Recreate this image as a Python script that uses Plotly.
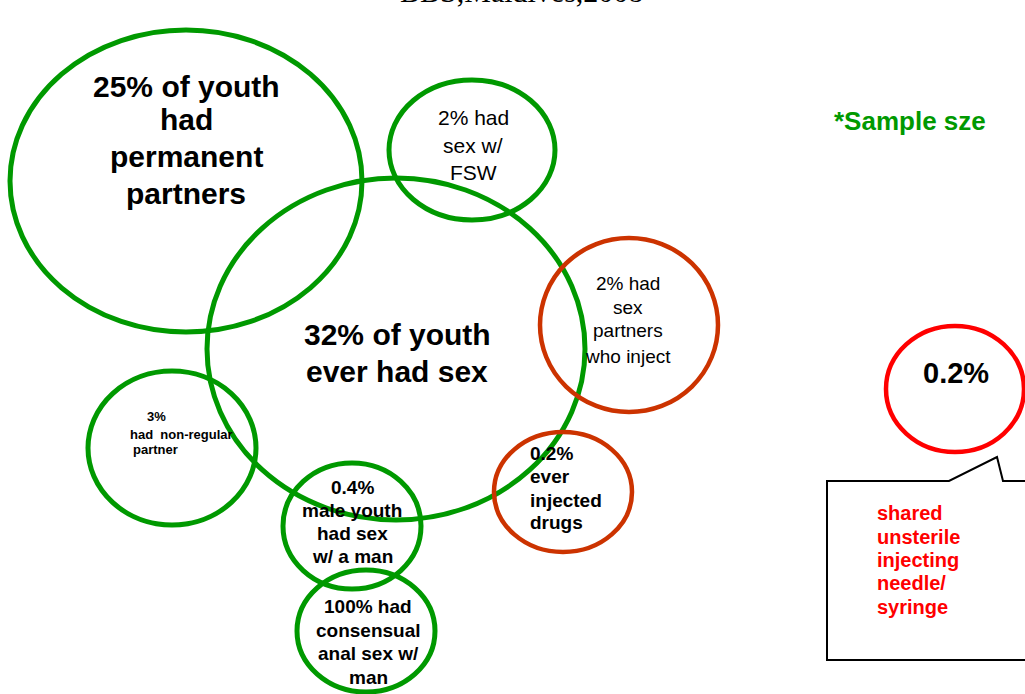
import plotly.graph_objects as go

# ---- data (texts of the diagram) ----
title_text = "BBS,Maldives,2008"
bubble_labels = [
    ["25% of youth", "had", "permanent", "partners"],
    ["32% of youth", "ever had sex"],
    ["2% had", "sex w/", "FSW"],
    ["2% had", "sex", "partners", "who inject"],
    ["3%", "had  non-regular", "partner"],
    ["0.4%", "male youth", "had sex", "w/ a man"],
    ["100% had", "consensual", "anal sex w/", "man"],
    ["0.2%", "ever", "injected", "drugs"],
    ["0.2%"],
]
note_text = "*Sample sze"
callout_lines = ["shared", "unsterile", "injecting", "needle/", "syringe"]

# ---- layout geometry (pixel space, y downwards) ----
GREEN = "#009900"
ORANGE = "#CC3300"
RED = "#FF0000"
circles = [  # cx, cy, rx, ry, color, width
    (186, 181, 176, 151, GREEN, 5),
    (396, 349, 189, 171, GREEN, 5),
    (472, 150, 83, 70, GREEN, 5),
    (629, 325, 89, 87, ORANGE, 4.5),
    (172, 448, 84, 77, GREEN, 5),
    (352, 526, 69, 63, GREEN, 5),
    (366, 631, 69, 61, GREEN, 5),
    (563, 492, 69, 60, ORANGE, 4.5),
    (955, 389, 69, 63, RED, 4.5),
]
# per label: x, list of line centre y, font size, bold, anchor
text_pos = [
    (186, [86, 119, 156, 193], 30, True, "center"),
    (397, [334, 371], 30, True, "center"),
    (473, [117, 145, 172], 21, False, "center"),
    (628, [283, 307, 330, 356], 19, False, "center"),
    ([145, 128, 131], [416, 434, 449], 13, True, "left"),
    (352, [487, 510, 533, 556], 19, True, "center"),
    (368, [606, 630, 653, 677], 19, True, "center"),
    (528, [453, 476, 500, 522], 19, True, "left"),
    (956, [373], 29, True, "center"),
]

fig = go.Figure()
shapes = []
for cx, cy, rx, ry, col, w in circles:
    shapes.append(dict(type="circle", xref="x", yref="y",
                       x0=cx - rx, x1=cx + rx, y0=cy - ry, y1=cy + ry,
                       line=dict(color=col, width=w), fillcolor="rgba(0,0,0,0)"))
# callout box with pointer
shapes.append(dict(type="path", xref="x", yref="y",
                   path="M 1030 481 L 1003 481 L 997 457 L 949 481 L 827 481 L 827 660 L 1030 660",
                   line=dict(color="black", width=2)))

F = "Liberation Sans, Arial, sans-serif"
ann = []


def add_line(x, y, text, size, bold, anchor, color="black", family=F):
    ann.append(dict(x=x, y=y, xref="x", yref="y", text=f"<b>{text}</b>" if bold else text,
                    showarrow=False, xanchor=anchor, yanchor="middle",
                    font=dict(family=family, size=size, color=color)))


for lines, (x, ys, s, b, a) in zip(bubble_labels, text_pos):
    for k, (ln, y) in enumerate(zip(lines, ys)):
        xx = x[k] if isinstance(x, list) else x
        add_line(xx, y, ln, s, b, a)

add_line(910, 121, note_text, 26, True, "center", GREEN)
for ln, y in zip(callout_lines, [513, 537, 560, 583, 607]):
    add_line(875, y, ln, 20, True, "left", RED)

ann.append(dict(x=521, y=10, xref="x", yref="y", text=title_text,
                showarrow=False, xanchor="center", yanchor="bottom",
                font=dict(family="Liberation Serif, Times New Roman, serif", size=30, color="black")))

fig.update_layout(
    width=1025, height=694, margin=dict(l=0, r=0, t=0, b=0),
    paper_bgcolor="white", plot_bgcolor="white",
    xaxis=dict(range=[0, 1025], visible=False, fixedrange=True),
    yaxis=dict(range=[694, 0], visible=False, fixedrange=True),
    shapes=shapes, annotations=ann, showlegend=False,
)
fig.write_html("out.html", config={"displayModeBar": False},
               post_script="document.body.style.margin='0';document.body.style.overflow='hidden';")
